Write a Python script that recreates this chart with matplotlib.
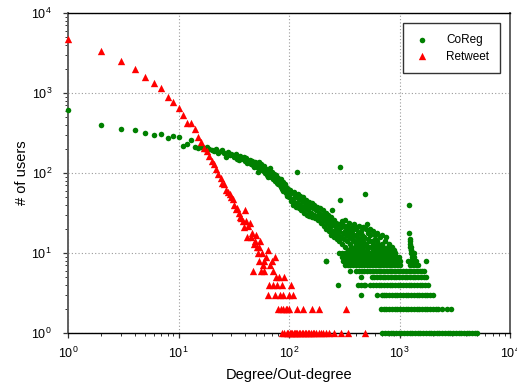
import matplotlib
matplotlib.use("Agg")
import matplotlib.pyplot as plt

plt.rcParams["font.family"] = ["Liberation Sans", "DejaVu Sans"]
plt.rcParams["mathtext.fontset"] = "custom"
plt.rcParams["mathtext.rm"] = "Liberation Sans"
plt.rcParams["mathtext.default"] = "regular"

# ---- data (degree, number of users) ----
retweet_pts = [
    (1, 4700), (2, 3350), (3, 2490), (4, 2000), (5, 1600), (6, 1345), (7, 1165),
    (8, 890), (9, 772), (10, 645), (11, 535), (12, 422), (13, 425), (14, 352),
    (15, 282), (16, 242), (17, 205), (18, 188), (19, 163), (20, 141), (21, 130),
    (22, 112), (23, 96), (24, 86), (25, 76), (26, 72), (27, 62), (28, 58),
    (29, 55), (30, 50), (31, 47), (32, 40), (33, 35), (34, 36), (35, 32),
    (36, 28), (37, 27), (38, 25), (39, 21), (40, 34), (41, 25), (42, 16),
    (43, 22), (44, 24), (45, 16), (46, 18), (47, 6), (48, 13), (49, 14),
    (50, 17), (51, 12), (52, 10), (53, 12), (54, 8), (55, 14), (56, 6),
    (57, 10), (58, 7), (59, 8), (60, 6), (62, 9), (64, 3), (65, 11), (66, 4),
    (67, 7), (70, 8), (71, 6), (72, 4), (74, 3), (75, 9), (76, 5), (78, 4),
    (80, 2), (81, 5), (83, 3), (84, 2), (86, 4), (88, 3), (89, 2), (90, 5),
    (93, 2), (96, 2), (99, 3), (101, 2), (104, 4), (109, 3), (117, 2),
    (133, 2), (160, 2), (186, 2), (327, 2),
]
retweet_deg_cnt1 = [87, 91, 95, 98, 102, 105, 107, 110, 113, 116, 119, 122, 126,
                    130, 135, 139, 143, 148, 153, 158, 164, 170, 177, 185, 195,
                    205, 215, 228, 258, 295, 340, 490]

coreg_head = [(1, 615), (2, 398), (3, 352), (4, 340), (5, 319), (6, 296),
              (7, 310), (8, 272), (9, 287), (10, 280), (11, 220), (12, 230),
              (13, 255)]
coreg_cloud = [
    (14, 213), (15, 205), (16, 210), (17, 200), (18, 212), (19, 198), (20, 196),
    (21, 188), (22, 200), (23, 176), (24, 186), (25, 194), (26, 178), (27, 160),
    (28, 182), (29, 170), (30, 175), (31, 168), (32, 158), (33, 172), (34, 150),
    (35, 145), (36, 162), (37, 155), (38, 148), (39, 160), (40, 140), (41, 152),
    (42, 135), (43, 138), (44, 146), (45, 130), (46, 142), (47, 126), (48, 120),
    (49, 136), (50, 132), (51, 118), (52, 103), (53, 138), (54, 125), (55, 112),
    (56, 128), (57, 110), (58, 118), (59, 105), (60, 122), (61, 100), (62, 112),
    (63, 95), (64, 108), (65, 90), (66, 102), (67, 115), (68, 96), (69, 88),
    (70, 104), (71, 92), (72, 85), (73, 98), (74, 80), (75, 90), (76, 84),
    (77, 95), (78, 76), (79, 86), (80, 72), (81, 82), (82, 78), (83, 70),
    (84, 85), (85, 66), (86, 74), (87, 64), (88, 78), (89, 60), (90, 70),
    (91, 62), (92, 72), (93, 56), (94, 66), (95, 58), (96, 52), (97, 64),
    (98, 55), (99, 60), (100, 50), (102, 62), (104, 45), (105, 56), (107, 48),
    (108, 40), (110, 58), (112, 44), (113, 52), (115, 38), (116, 50), (118, 42),
    (120, 55), (122, 36), (124, 47), (125, 40), (127, 52), (129, 34), (131, 45),
    (133, 38), (135, 50), (137, 32), (139, 42), (141, 36), (143, 46), (145, 30),
    (147, 40), (149, 34), (151, 44), (153, 29), (155, 38), (158, 32), (160, 42),
    (162, 28), (165, 36), (167, 30), (170, 40), (172, 27), (175, 34), (178, 29),
    (180, 38), (183, 26), (186, 32), (189, 28), (192, 36), (195, 24), (198, 30),
    (200, 27), (203, 34), (206, 22), (209, 29), (212, 25), (215, 32), (218, 20),
    (221, 27), (224, 23), (227, 30), (230, 19), (233, 25), (236, 21), (239, 28),
    (242, 17), (248, 23), (251, 19), (254, 26), (257, 16), (260, 22), (263, 18),
    (266, 24), (270, 15), (273, 20), (276, 17), (280, 23), (283, 14), (286, 19),
    (293, 21), (297, 16), (300, 25), (302, 24), (304, 13), (308, 18), (312, 22),
    (316, 15), (318, 26), (320, 19), (324, 12), (328, 17), (332, 21), (334, 22),
    (336, 14), (340, 18), (344, 11), (348, 16), (350, 24), (352, 20), (356, 13),
    (360, 17), (365, 12), (368, 21), (370, 15), (375, 19), (380, 11), (385, 14),
    (388, 23), (390, 17), (395, 12), (400, 21), (405, 13), (408, 20), (410, 16),
    (415, 11), (420, 14), (425, 18), (428, 22), (430, 12), (436, 15), (442, 10),
    (448, 13), (450, 19), (454, 17), (460, 11), (466, 14), (470, 21), (472, 12),
    (478, 16), (484, 10), (495, 20), (496, 13), (508, 11), (515, 15), (520, 18),
    (522, 12), (530, 14), (538, 10), (545, 20), (546, 17), (554, 12), (562, 14),
    (570, 11), (575, 19), (578, 13), (586, 10), (595, 15), (600, 17), (604, 12),
    (613, 11), (622, 14), (630, 18), (632, 10), (642, 13), (652, 11), (660, 16),
    (672, 12), (682, 10), (693, 13), (700, 17), (704, 11), (715, 12), (727, 10),
    (740, 14), (765, 11), (780, 10), (795, 12), (810, 13), (826, 10), (842, 11),
    (858, 12), (875, 10), (892, 11), (910, 10),
]
coreg_outliers = [
    (117, 104), (289, 120), (290, 46), (245, 34), (215, 8), (490, 55),
    (505, 23), (750, 16), (1225, 40), (1230, 18), (1238, 15), (1245, 14),
    (1250, 13), (1256, 12), (1262, 11), (1268, 10), (1275, 12), (1283, 11),
    (1290, 10), (1300, 9), (1310, 10), (1320, 9), (1335, 9), (1350, 10),
    (1365, 9), (1380, 8),
]
# low-count rows: degrees that have exactly that many users
coreg_deg_cnt10 = [282, 300, 318, 337, 357, 378, 400, 423, 448, 474, 502, 531,
                   562, 595, 630, 667, 706, 747, 790, 836, 885, 920]
coreg_deg_cnt9 = [300, 318, 336, 356, 377, 399, 422, 447, 473, 501, 530, 561,
                  594, 629, 666, 705, 746, 790, 836, 885, 936, 990]
coreg_deg_cnt8 = [215, 310, 328, 347, 367, 389, 412, 436, 461, 488, 517, 547,
                  579, 613, 649, 687, 727, 770, 815, 862, 912, 965, 1000, 1200,
                  1270, 1340, 1400, 1720]
coreg_deg_cnt7 = [320, 339, 359, 380, 402, 426, 451, 477, 505, 535, 566, 599,
                  634, 671, 711, 752, 796, 843, 892, 944, 1000, 1250, 1320,
                  1400, 1480]
coreg_deg_cnt6 = [360, 405, 430, 455, 482, 505, 545, 577, 611, 647, 685, 725,
                  767, 812, 860, 910, 963, 1020, 1080, 1143, 1210, 1281, 1356,
                  1435, 1519, 1608, 1660]
coreg_deg_cnt5 = [450, 560, 593, 628, 665, 704, 745, 789, 835, 884, 936, 991,
                  1049, 1110, 1175, 1244, 1317, 1394, 1476, 1562, 1654, 1720]
coreg_deg_cnt4 = [278, 425, 450, 475, 490, 545, 577, 611, 647, 685, 725, 768,
                  813, 861, 911, 965, 1021, 1081, 1145, 1212, 1283, 1358, 1438,
                  1522, 1612, 1706, 1820]
coreg_deg_cnt3 = [445, 630, 690, 720, 762, 807, 854, 904, 957, 1013, 1073, 1136,
                  1202, 1273, 1347, 1426, 1510, 1598, 1692, 1791, 1896, 2000]
coreg_deg_cnt2 = [680, 720, 762, 807, 854, 904, 957, 1013, 1073, 1136, 1202,
                  1273, 1347, 1426, 1510, 1598, 1692, 1791, 1896, 2007, 2125,
                  2250, 2400, 2680, 2930]
coreg_deg_cnt1 = [700, 740, 785, 830, 880, 930, 985, 1040, 1100, 1165, 1235,
                  1305, 1380, 1460, 1545, 1635, 1730, 1830, 1935, 2050, 2170,
                  2295, 2430, 2570, 2720, 2880, 3050, 3230, 3420, 3620, 3830,
                  4050, 4290, 4540, 4800, 5080]

C_GREEN = "#008000"
C_RED = "#ff0000"


def build_series():
    coreg = coreg_head + coreg_cloud + coreg_outliers
    rows = [(10, coreg_deg_cnt10), (9, coreg_deg_cnt9), (8, coreg_deg_cnt8),
            (7, coreg_deg_cnt7), (6, coreg_deg_cnt6), (5, coreg_deg_cnt5),
            (4, coreg_deg_cnt4), (3, coreg_deg_cnt3), (2, coreg_deg_cnt2),
            (1, coreg_deg_cnt1)]
    for cnt, degs in rows:
        coreg += [(d, cnt) for d in degs]
    retweet = retweet_pts + [(d, 1) for d in retweet_deg_cnt1]
    return coreg, retweet


coreg, retweet = build_series()

fig = plt.figure(figsize=(5.17, 3.87), dpi=100)
ax = fig.add_axes([68 / 517, 1 - 333 / 387, 442 / 517, 320 / 387])

ax.scatter([p[0] for p in coreg], [p[1] for p in coreg], s=16, marker="o",
           color=C_GREEN, linewidths=0, label="CoReg", zorder=3, clip_on=False)
ax.scatter([p[0] for p in retweet], [p[1] for p in retweet], s=28, marker="^",
           color=C_RED, linewidths=0, label="Retweet", zorder=4, clip_on=False)

ax.set_xscale("log")
ax.set_yscale("log")
ax.set_xlim(1, 1e4)
ax.set_ylim(1, 1e4)

ax.grid(True, which="major", color="#9a9a9a", linestyle=(0, (1, 2)),
        linewidth=0.8)
ax.set_axisbelow(True)

ax.tick_params(which="both", direction="out", top=False, right=False,
               labelsize=9, color="#333333")
ax.tick_params(which="major", length=3.5, width=0.9, pad=6)
ax.tick_params(which="minor", length=2.2, width=0.7)
ax.tick_params(axis="y", which="major", pad=8)

for side in ("top", "bottom"):
    ax.spines[side].set_color("black")
    ax.spines[side].set_linewidth(1.0)
for side in ("left", "right"):
    ax.spines[side].set_color("#606060")
    ax.spines[side].set_linewidth(1.4)

ax.set_xlabel("Degree/Out-degree", fontsize=10.5, labelpad=5)
ax.set_ylabel("# of users", fontsize=10.5, labelpad=2)

leg = ax.legend(loc="upper right", bbox_to_anchor=(0.977, 0.968),
                borderaxespad=0, fontsize=8.5, frameon=True, fancybox=False,
                edgecolor="black", handletextpad=1.3, borderpad=0.9,
                labelspacing=0.4, markerscale=1.0, handlelength=1.5)
leg.get_frame().set_linewidth(1.0)

fig.savefig("out.png", dpi=100)
